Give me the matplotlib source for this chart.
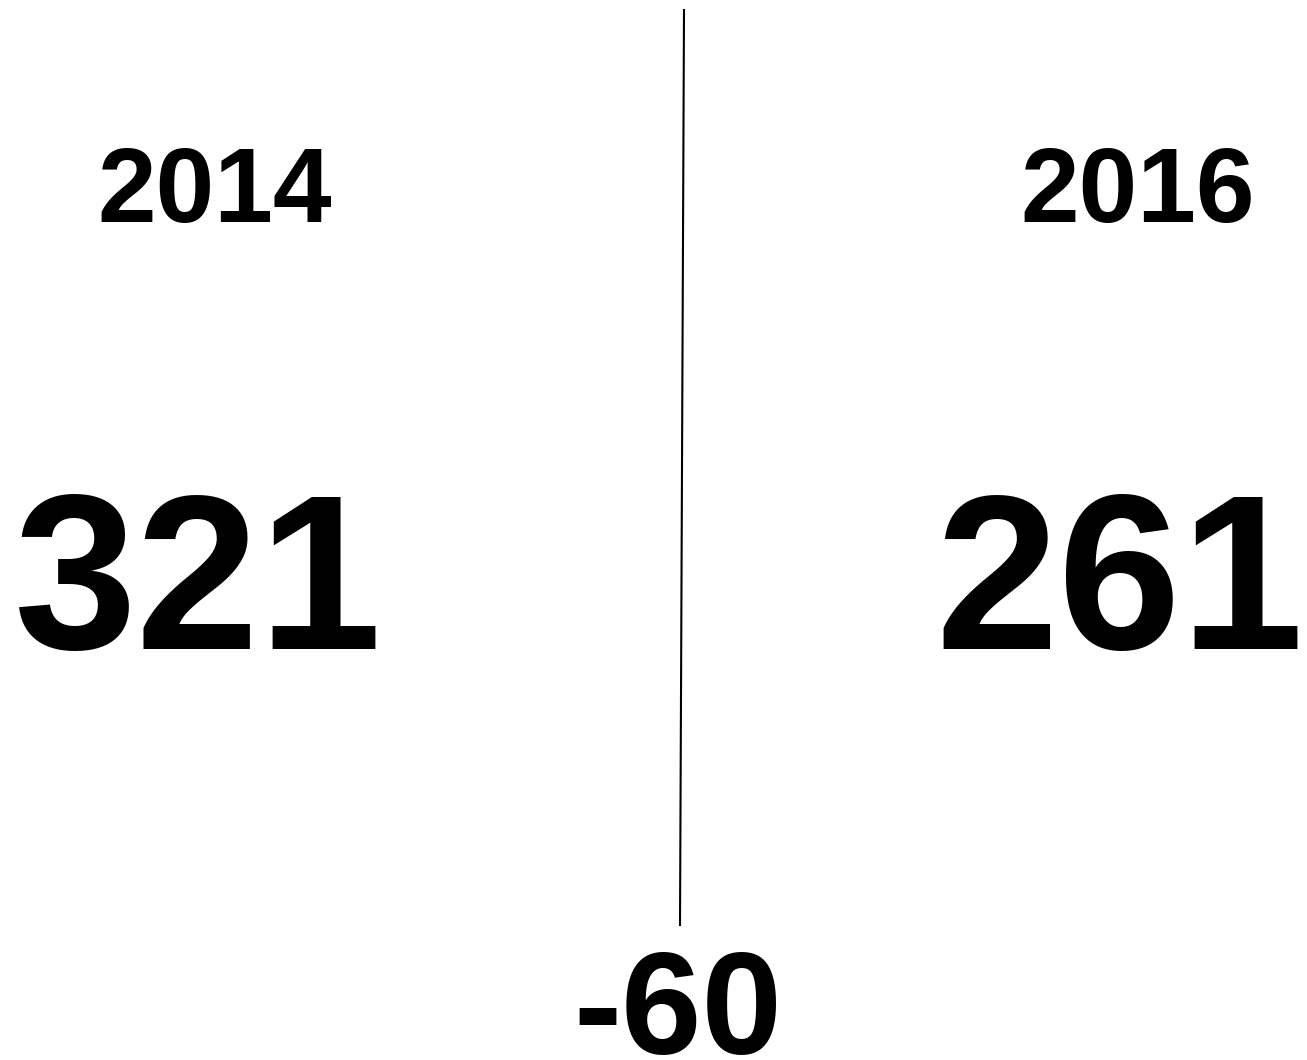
import matplotlib
matplotlib.use("Agg")
import matplotlib.pyplot as plt

# --- Data ---
years = ["2014", "2016"]
values = [321, 261]
change = values[1] - values[0]

plt.rcParams['font.family'] = ['Liberation Sans', 'DejaVu Sans']

fig = plt.figure(figsize=(13.07, 10.60), dpi=100)
ax = fig.add_axes([0, 0, 1, 1])
ax.set_xlim(0, 1307)
ax.set_ylim(1060, 0)
ax.axis('off')

# --- Year labels and values ---
year_x = [215, 1138]
value_x = [198, 1120]
for yr, val, xy, xv in zip(years, values, year_x, value_x):
    ax.text(xy, 222, yr, fontsize=76, fontweight='bold', ha='center', va='baseline')
    ax.text(xv, 649, str(val), fontsize=159, fontweight='bold', ha='center', va='baseline')

# --- Divider and difference ---
ax.plot([684, 680], [10, 925], color='black', linewidth=1.5)
ax.text(678, 1054, f"{change}", fontsize=104, fontweight='bold', ha='center', va='baseline')

fig.savefig("out.png", dpi=100)
